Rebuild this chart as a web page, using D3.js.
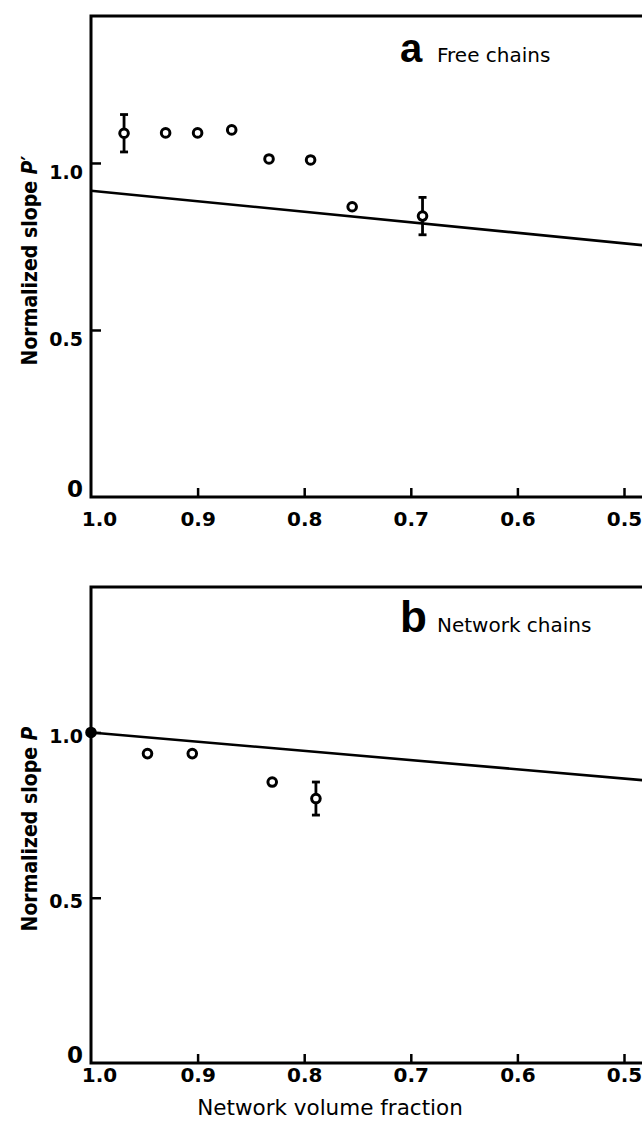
<!DOCTYPE html>
<html>
<head>
<meta charset="utf-8">
<script src="https://cdn.jsdelivr.net/npm/d3@7"></script>
<style>
  body { margin: 0; background: #fff; }
  svg { display: block; }
</style>
</head>
<body>
<div id="canvas"></div>
<script>
// ---- data ----
const xTicks = [1.0, 0.9, 0.8, 0.7, 0.6, 0.5];
const yTicks = [0, 0.5, 1.0];

// a: free chains
const freeX   = [0.969, 0.930, 0.900, 0.868, 0.833, 0.794, 0.755, 0.689];
const freeY   = [1.089, 1.090, 1.090, 1.099, 1.012, 1.009, 0.869, 0.841];
const freeErr = [0.056, 0, 0, 0, 0, 0, 0, 0.056];
const freeLineX = [1.0, 0.48];
const freeLineY = [0.917, 0.753];

// b: network chains
const netX   = [1.0, 0.947, 0.905, 0.830, 0.789];
const netY   = [1.0, 0.936, 0.936, 0.850, 0.800];
const netErr = [0, 0, 0, 0, 0.05];
const netFilled = [true, false, false, false, false];
const netLineX = [1.0, 0.48];
const netLineY = [1.0, 0.855];

const width = 642, height = 1126;
const tickFont = "'DejaVu Sans', sans-serif";

const svg = d3.select("#canvas").append("svg")
    .attr("width", width)
    .attr("height", height);

const x = d3.scaleLinear().domain([1.0, 0.5]).range([91, 624]);

const panels = [
    {top: 16, bottom: 497, letter: "a", letterSize: 40, name: "Free chains",
     ylab: "\u2032", px: freeX, py: freeY, err: freeErr, filled: freeX.map(() => false),
     lx: freeLineX, ly: freeLineY, labDy: 16, xLabDy: 29},
    {top: 587, bottom: 1063, letter: "b", letterSize: 44, name: "Network chains",
     ylab: "", px: netX, py: netY, err: netErr, filled: netFilled,
     lx: netLineX, ly: netLineY, labDy: 10, xLabDy: 19}
];

panels.forEach(p => {
    const y = d3.scaleLinear().domain([0, 1.44]).range([p.bottom, p.top]);
    const g = svg.append("g");

    // frame: left, top, bottom
    g.append("path")
        .attr("d", `M${width + 2},${y(1.44)}H${x(1.0)}V${y(0)}H${width + 2}`)
        .attr("fill", "none")
        .attr("stroke", "#000")
        .attr("stroke-width", 3);

    // x axis
    const xa = g.append("g")
        .attr("transform", `translate(0,${y(0)})`)
        .call(d3.axisBottom(x).tickValues(xTicks).tickSizeInner(-9).tickSizeOuter(0)
            .tickFormat(d3.format(".1f")));
    xa.select(".domain").remove();
    xa.selectAll(".tick line").attr("stroke", "#000").attr("stroke-width", 2.5)
        .filter(d => d === 1.0).remove();
    xa.selectAll(".tick text")
        .attr("y", p.xLabDy).attr("dy", 0)
        .attr("dx", d => d === 1.0 ? 8 : 0)
        .attr("fill", "#000")
        .style("font-family", tickFont)
        .style("font-weight", "bold")
        .style("font-size", "20px");

    // y axis
    const ya = g.append("g")
        .attr("transform", `translate(${x(1.0)},0)`)
        .call(d3.axisLeft(y).tickValues(yTicks).tickSizeInner(-10).tickSizeOuter(0).tickPadding(8)
            .tickFormat(d => d === 0 ? "0" : d3.format(".1f")(d)));
    ya.select(".domain").remove();
    ya.selectAll(".tick line").attr("stroke", "#000").attr("stroke-width", 2.5)
        .filter(d => d === 0).remove();
    ya.selectAll(".tick text")
        .attr("dy", d => d === 0 ? -1 : p.labDy)
        .attr("fill", "#000")
        .style("font-family", tickFont)
        .style("font-weight", "bold")
        .style("font-size", d => d === 0 ? "23px" : "19px");

    // theory line
    const line = d3.line().x(d => x(d[0])).y(d => y(d[1]));
    g.append("path")
        .datum(d3.zip(p.lx, p.ly))
        .attr("d", line)
        .attr("fill", "none")
        .attr("stroke", "#000")
        .attr("stroke-width", 2.6);

    const pts = p.px.map((v, i) => ({x: v, y: p.py[i], e: p.err[i], f: p.filled[i]}));

    // error bars
    const eb = g.selectAll(".err").data(pts.filter(d => d.e > 0)).enter().append("g")
        .attr("stroke", "#000").attr("stroke-width", 2.8);
    eb.append("line")
        .attr("x1", d => x(d.x)).attr("x2", d => x(d.x))
        .attr("y1", d => y(d.y + d.e)).attr("y2", d => y(d.y - d.e));
    eb.append("line")
        .attr("x1", d => x(d.x) - 4).attr("x2", d => x(d.x) + 4)
        .attr("y1", d => y(d.y + d.e)).attr("y2", d => y(d.y + d.e));
    eb.append("line")
        .attr("x1", d => x(d.x) - 4).attr("x2", d => x(d.x) + 4)
        .attr("y1", d => y(d.y - d.e)).attr("y2", d => y(d.y - d.e));

    // points
    g.selectAll(".pt").data(pts).enter().append("circle")
        .attr("cx", d => x(d.x))
        .attr("cy", d => y(d.y))
        .attr("r", 4.3)
        .attr("fill", d => d.f ? "#000" : "#fff")
        .attr("stroke", "#000")
        .attr("stroke-width", 3);

    // panel label
    const lab = g.append("text")
        .attr("x", 400)
        .attr("y", p.top + (p.letter === "a" ? 46 : 45))
        .attr("fill", "#000");
    lab.append("tspan")
        .style("font-family", "'Liberation Sans', Arial, sans-serif")
        .style("font-weight", "bold")
        .style("font-size", p.letterSize + "px")
        .text(p.letter);
    lab.append("tspan")
        .attr("x", 437)
        .style("font-family", "'DejaVu Sans', sans-serif")
        .style("font-size", "20px")
        .text(p.name);

    // y title
    const yt = g.append("text")
        .attr("transform", `translate(37,${(p.top + p.bottom) / 2 + 4}) rotate(-90)`)
        .attr("text-anchor", "middle")
        .attr("fill", "#000")
        .style("font-family", "'DejaVu Sans Condensed', 'DejaVu Sans', sans-serif")
        .style("font-weight", "bold")
        .style("font-size", "21px");
    yt.append("tspan").text("Normalized slope ");
    yt.append("tspan").style("font-style", "italic").text("P");
    if (p.ylab) yt.append("tspan").text(p.ylab);
});

svg.append("text")
    .attr("x", 330)
    .attr("y", 1115)
    .attr("text-anchor", "middle")
    .attr("fill", "#000")
    .style("font-family", "'DejaVu Sans', sans-serif")
    .style("font-size", "21.5px")
    .text("Network volume fraction");
</script>
</body>
</html>
